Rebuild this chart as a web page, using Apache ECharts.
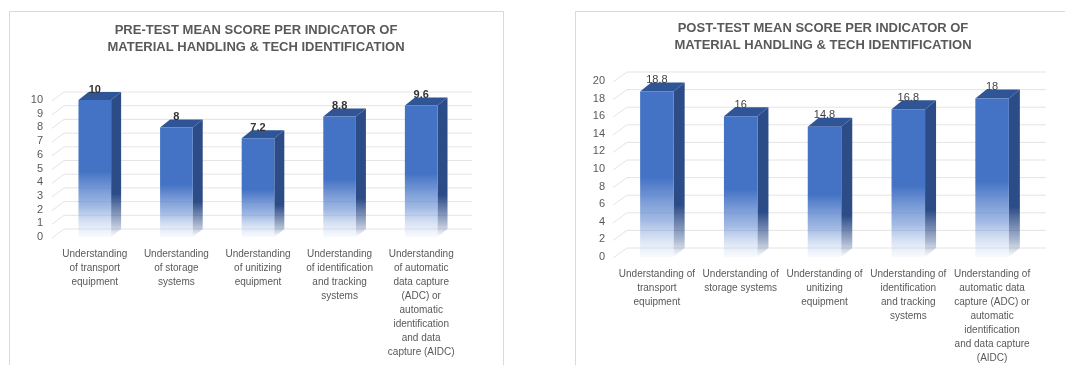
<!DOCTYPE html>
<html>
<head>
<meta charset="utf-8">
<script src="https://cdn.jsdelivr.net/npm/echarts@6/dist/echarts.min.js"></script>
<style>
  html, body { margin: 0; padding: 0; background: #fff; }
  #chart { width: 1065px; height: 365px; }
</style>
</head>
<body>
<div id="chart"></div>
<script>
// data
const preCategories = [
  'Understanding\nof transport\nequipment',
  'Understanding\nof storage\nsystems',
  'Understanding\nof unitizing\nequipment',
  'Understanding\nof identification\nand tracking\nsystems',
  'Understanding\nof automatic\ndata capture\n(ADC) or\nautomatic\nidentification\nand data\ncapture (AIDC)'
]
const postCategories = [
  'Understanding of\ntransport\nequipment',
  'Understanding of\nstorage systems',
  'Understanding of\nunitizing\nequipment',
  'Understanding of\nidentification\nand tracking\nsystems',
  'Understanding of\nautomatic data\ncapture (ADC) or\nautomatic\nidentification\nand data capture\n(AIDC)'
]
const preValues = [10, 8, 7.2, 8.8, 9.6]
const postValues = [18.8, 16, 14.8, 16.8, 18]
const preTicks = [0, 1, 2, 3, 4, 5, 6, 7, 8, 9, 10]
const postTicks = [0, 2, 4, 6, 8, 10, 12, 14, 16, 18, 20]
const preTitle = 'PRE-TEST MEAN SCORE PER INDICATOR OF\nMATERIAL HANDLING & TECH IDENTIFICATION'
const postTitle = 'POST-TEST MEAN SCORE PER INDICATOR OF\nMATERIAL HANDLING & TECH IDENTIFICATION'

const FONT = '"Liberation Sans", Arial, sans-serif'

const chart = echarts.init(document.getElementById('chart'))

function frontFill() {
  return new echarts.graphic.LinearGradient(0, 0, 0, 1, [
    { offset: 0, color: '#4472C4' },
    { offset: 0.52, color: '#4472C4' },
    { offset: 0.78, color: 'rgba(100,140,210,0.6)' },
    { offset: 1, color: 'rgba(230,238,250,0.3)' }
  ])
}

function sideFill() {
  return new echarts.graphic.LinearGradient(0, 0, 0, 1, [
    { offset: 0, color: '#2C4C88' },
    { offset: 0.7, color: '#2C4C88' },
    { offset: 0.9, color: 'rgba(44,76,136,0.4)' },
    { offset: 1, color: 'rgba(44,76,136,0.02)' }
  ])
}

function barRenderer(dx, dy, labelStyle) {
  return function(params, api) {
    const idx = api.value(0)
    const v = api.value(1)
    const top = api.coord([idx, v])
    const base = api.coord([idx, 0])
    const w = api.size([1, 0])[0] * 0.4
    const l = top[0] - w / 2
    const r = top[0] + w / 2
    return {
      type: 'group',
      children: [
        {
          type: 'polygon',
          shape: { points: [[r, top[1]], [r + dx, top[1] - dy], [r + dx, base[1] - dy], [r, base[1]]] },
          style: { fill: sideFill() }
        },
        {
          type: 'polygon',
          shape: { points: [[l, top[1]], [l + dx, top[1] - dy], [r + dx, top[1] - dy], [r, top[1]]] },
          style: { fill: '#2F5597' }
        },
        {
          type: 'rect',
          shape: { x: l, y: top[1], width: w, height: base[1] - top[1] },
          style: { fill: frontFill() }
        },
        {
          type: 'text',
          x: top[0],
          y: top[1] - dy + 3,
          style: Object.assign({
            text: String(v),
            align: 'center',
            verticalAlign: 'bottom',
            fontFamily: FONT
          }, labelStyle)
        }
      ]
    }
  }
}

function gridRenderer(dx, dy) {
  return function(params, api) {
    const y = api.coord([0, api.value(1)])[1]
    const cs = params.coordSys
    return {
      type: 'polyline',
      silent: true,
      shape: { points: [[cs.x - 2, y + 1], [cs.x + dx, y - dy], [cs.x + cs.width + dx, y - dy]] },
      style: { stroke: '#e4e4e4', lineWidth: 1, fill: null }
    }
  }
}

const yLabel = { color: '#595959', fontSize: 11, fontFamily: FONT }
const xLabel = { color: '#595959', fontSize: 10, fontFamily: FONT, lineHeight: 14, interval: 0 }

chart.setOption({
  animation: false,
  backgroundColor: '#fff',
  graphic: [
    { type: 'rect', shape: { x: 9.5, y: 11.5, width: 494, height: 370 }, style: { fill: null, stroke: '#d9d9d9', lineWidth: 1 }, z: -1 },
    { type: 'rect', shape: { x: 575.5, y: 11.5, width: 500, height: 370 }, style: { fill: null, stroke: '#d9d9d9', lineWidth: 1 }, z: -1 },
    { type: 'text', x: 256, y: 22, style: { text: preTitle, align: 'center', fill: '#595959', font: 'bold 13px ' + FONT, lineHeight: 17 } },
    { type: 'text', x: 823, y: 20, style: { text: postTitle, align: 'center', fill: '#595959', font: 'bold 13px ' + FONT, lineHeight: 17 } }
  ],
  grid: [
    { left: 54, right: 603, top: 100, bottom: 128 },
    { left: 615, right: 31, top: 81, bottom: 106 }
  ],
  xAxis: [
    {
      gridIndex: 0,
      type: 'category',
      data: preCategories,
      axisLine: { show: false },
      axisTick: { show: false },
      axisLabel: Object.assign({ margin: 10 }, xLabel)
    },
    {
      gridIndex: 1,
      type: 'category',
      data: postCategories,
      axisLine: { show: false },
      axisTick: { show: false },
      axisLabel: Object.assign({ margin: 10 }, xLabel)
    }
  ],
  yAxis: [
    {
      gridIndex: 0,
      type: 'value',
      min: 0,
      max: 10,
      interval: 1,
      axisLine: { show: false },
      axisTick: { show: false },
      splitLine: { show: false },
      axisLabel: Object.assign({ margin: 11 }, yLabel)
    },
    {
      gridIndex: 1,
      type: 'value',
      min: 0,
      max: 20,
      interval: 2,
      axisLine: { show: false },
      axisTick: { show: false },
      splitLine: { show: false },
      axisLabel: Object.assign({ margin: 10 }, yLabel)
    }
  ],
  series: [
    {
      type: 'custom',
      xAxisIndex: 0,
      yAxisIndex: 0,
      z: 1,
      renderItem: gridRenderer(10, 8),
      data: preTicks.map(t => [0, t])
    },
    {
      type: 'custom',
      xAxisIndex: 1,
      yAxisIndex: 1,
      z: 1,
      renderItem: gridRenderer(12, 9),
      data: postTicks.map(t => [0, t])
    },
    {
      type: 'custom',
      xAxisIndex: 0,
      yAxisIndex: 0,
      z: 2,
      renderItem: barRenderer(10, 8, { fill: '#333333', fontSize: 11, fontWeight: 'bold' }),
      data: preValues.map((v, i) => [i, v])
    },
    {
      type: 'custom',
      xAxisIndex: 1,
      yAxisIndex: 1,
      z: 2,
      renderItem: barRenderer(11, 9, { fill: '#404040', fontSize: 11 }),
      data: postValues.map((v, i) => [i, v])
    }
  ]
})
</script>
</body>
</html>
